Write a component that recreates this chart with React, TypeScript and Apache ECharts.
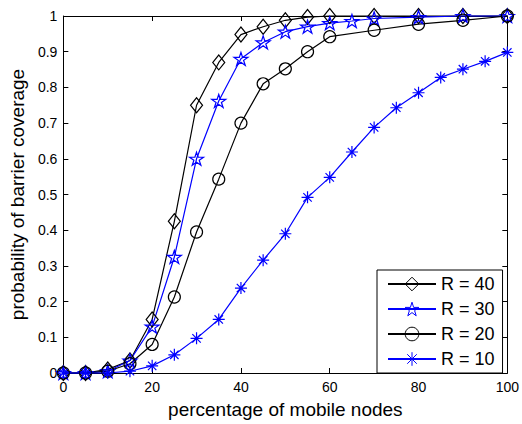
import React, { useEffect, useRef } from "react";
import * as echarts from "echarts";

const xR40 = [0, 5, 10, 15, 20, 25, 30, 35, 40, 45, 50, 55, 60, 70, 80, 90, 100];
const yR40 = [0, 0, 0.01, 0.035, 0.15, 0.425, 0.75, 0.87, 0.948, 0.97, 0.988, 0.997, 1.0, 1.0, 1.0, 1.0, 1.0];

const xR30 = [0, 5, 10, 15, 20, 25, 30, 35, 40, 45, 50, 55, 60, 65, 70, 80, 90, 100];
const yR30 = [0, 0, 0.005, 0.035, 0.13, 0.325, 0.6, 0.762, 0.88, 0.926, 0.956, 0.97, 0.98, 0.986, 0.993, 0.997, 1.0, 1.0];

const xR20 = [0, 5, 10, 15, 20, 25, 30, 35, 40, 45, 50, 55, 60, 70, 80, 90, 100];
const yR20 = [0, 0, 0.005, 0.026, 0.08, 0.213, 0.395, 0.543, 0.7, 0.81, 0.852, 0.9, 0.942, 0.96, 0.977, 0.988, 1.0];

const xR10 = [0, 5, 10, 15, 20, 25, 30, 35, 40, 45, 50, 55, 60, 65, 70, 75, 80, 85, 90, 95, 100];
const yR10 = [0, 0, 0, 0.005, 0.02, 0.051, 0.097, 0.15, 0.238, 0.316, 0.39, 0.492, 0.548, 0.619, 0.688, 0.743, 0.785, 0.828, 0.851, 0.873, 0.898];

const seriesNames = ["R = 40", "R = 30", "R = 20", "R = 10"];
const seriesColors = ["#000", "#0000ff", "#000", "#0000ff"];
const xTitle = "percentage of mobile nodes";
const yTitle = "probability of barrier coverage";

const STAR =
  "path://M50 0 L61.23 34.55 L97.55 34.55 L68.17 55.9 L79.39 90.45 L50 69.1 L20.61 90.45 L31.83 55.9 L2.45 34.55 L38.77 34.55 Z";
const ASTER =
  "path://M0 50 L100 50 M50 0 L50 100 M15 15 L85 85 M15 85 L85 15";

const FONT = "'Liberation Sans', Arial, Helvetica, sans-serif";

function pairs(xs: number[], ys: number[]) {
  return xs.map((x, i) => [x, ys[i]]);
}

export default function App() {
  const ref = useRef<HTMLDivElement>(null);
  useEffect(() => {
    if (!ref.current) return;
    const chart = echarts.init(ref.current, null, { renderer: "svg" });
    const mk = (
      name: string,
      xs: number[],
      ys: number[],
      color: string,
      symbol: string,
      size: number | number[]
    ) => ({
      name,
      type: "line",
      data: pairs(xs, ys),
      symbol,
      symbolSize: size,
      showAllSymbol: true,
      clip: false,
      lineStyle: { color, width: 1.2 },
      itemStyle: { color: "rgba(0,0,0,0)", borderColor: color, borderWidth: 1.2 },
      emphasis: { disabled: true },
    });
    const axisCommonX = {
      type: "value",
      min: 0,
      max: 100,
      interval: 20,
      splitLine: { show: false },
      axisLine: { show: true, onZero: false, lineStyle: { color: "#000", width: 1 } },
      axisTick: { show: true, inside: true, length: 5, lineStyle: { color: "#000" } },
    };
    const axisCommonY = {
      type: "value",
      min: 0,
      max: 1,
      interval: 0.1,
      splitLine: { show: false },
      axisLine: { show: true, onZero: false, lineStyle: { color: "#000", width: 1 } },
      axisTick: { show: true, inside: true, length: 5, lineStyle: { color: "#000" } },
    };
    chart.setOption({
      animation: false,
      backgroundColor: "#fff",
      grid: { left: 63, right: 12, top: 16, bottom: 47, containLabel: false },
      xAxis: [
        {
          ...axisCommonX,
          position: "bottom",
          name: xTitle,
          nameLocation: "middle",
          nameGap: 27,
          nameTextStyle: { fontFamily: FONT, fontSize: 19, color: "#000" },
          axisLabel: { show: true, margin: 7, fontFamily: FONT, fontSize: 14, color: "#000" },
        },
        { ...axisCommonX, position: "top", axisLabel: { show: false } },
      ],
      yAxis: [
        {
          ...axisCommonY,
          position: "left",
          name: yTitle,
          nameLocation: "middle",
          nameRotate: 90,
          nameGap: 33,
          nameTextStyle: { fontFamily: FONT, fontSize: 19, color: "#000" },
          axisLabel: { show: true, margin: 6, fontFamily: FONT, fontSize: 14, color: "#000" },
        },
        { ...axisCommonY, position: "right", axisLabel: { show: false } },
      ],
      legend: {
        left: 377,
        top: 270,
        orient: "vertical",
        data: seriesNames.map((n, i) => ({
          name: n,
          itemStyle: { color: "rgba(0,0,0,0)", borderColor: seriesColors[i], borderWidth: 1 },
        })),
        padding: [5, 8, 5, 10],
        itemWidth: 48,
        itemHeight: 17,
        itemGap: 7,
        borderColor: "#000",
        borderWidth: 1,
        backgroundColor: "#fff",
        selectedMode: false,
        textStyle: { fontFamily: FONT, fontSize: 18, color: "#000" },
      },
      series: [
        mk(seriesNames[0], xR40, yR40, seriesColors[0], "diamond", [12, 15]),
        mk(seriesNames[1], xR30, yR30, seriesColors[1], STAR, [14, 13]),
        mk(seriesNames[2], xR20, yR20, seriesColors[2], "circle", 12),
        mk(seriesNames[3], xR10, yR10, seriesColors[3], ASTER, 12),
      ],
    });
    return () => chart.dispose();
  }, []);
  return (
    <div
      ref={ref}
      style={{ position: "fixed", left: 0, top: 0, width: 522, height: 424 }}
    />
  );
}
